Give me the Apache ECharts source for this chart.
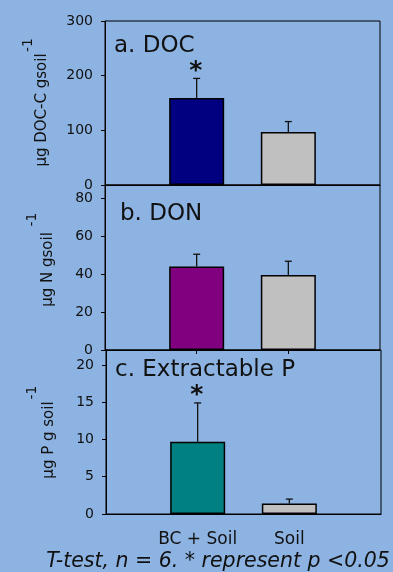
<!DOCTYPE html>
<html><head><meta charset="utf-8">
<script src="https://cdn.jsdelivr.net/npm/echarts@6/dist/echarts.min.js"></script>
<style>html,body{margin:0;padding:0;background:#8DB3E2}#c{width:393px;height:572px}</style>
</head><body><div id="c"></div>
<script>
// ---- data ----
const categories = ['BC + Soil', 'Soil'];
const docMean = [159, 97];
const docErr = [36, 19];
const docSig = [1, 0];
const donMean = [44, 39.5];
const donErr = [6.5, 7.3];
const donSig = [0, 0];
const pMean = [9.7, 1.4];
const pErr = [5.2, 0.6];
const pSig = [1, 0];
const docTicks = [0, 100, 200, 300];
const donTicks = [0, 20, 40, 60, 80];
const pTicks = [0, 5, 10, 15, 20];
const panelTitles = ['a. DOC', 'b. DON', 'c. Extractable P'];
const yTitles = ['µg DOC-C gsoil', 'µg N gsoil', 'µg P g soil'];
const footer = 'T-test, n = 6. * represent p <0.05';

const FONT = '"DejaVu Sans"';
const bcColors = ['#000080', '#800080', '#008080'];
const soilColor = '#C0C0C0';
const axisCats = [''].concat(categories, ['']);

const panels = [
  {mean: docMean, err: docErr, sig: docSig, ticks: docTicks, max: 300, interval: 100,
   grid: {left: 105, top: 21, width: 275, height: 164}},
  {mean: donMean, err: donErr, sig: donSig, ticks: donTicks, max: 87, interval: 20,
   grid: {left: 105, top: 185, width: 275, height: 165}},
  {mean: pMean, err: pErr, sig: pSig, ticks: pTicks, max: 22, interval: 5,
   grid: {left: 106, top: 350, width: 275, height: 164}}
];

const grid = [], xAxis = [], yAxis = [], series = [];
panels.forEach((p, i) => {
  grid.push(Object.assign({show: true, borderColor: '#000', borderWidth: 1, backgroundColor: 'transparent'}, p.grid));
  xAxis.push({
    type: 'category', gridIndex: i, data: axisCats, boundaryGap: false,
    axisLine: {show: true, lineStyle: {color: '#000', width: 1}},
    axisTick: {show: i === 1, length: 4, inside: false, lineStyle: {color: '#000'},
      interval: (idx) => idx === 1 || idx === 2},
    axisLabel: {show: i === 2, fontFamily: FONT, fontSize: 17, color: '#111', margin: 17, interval: 0},
    splitLine: {show: false}
  });
  const ticks = p.ticks;
  yAxis.push({
    type: 'value', gridIndex: i, min: 0, max: p.max, interval: p.interval,
    axisLine: {show: true, lineStyle: {color: '#000', width: 1}},
    axisTick: {show: true, length: 4, inside: false, lineStyle: {color: '#000'}},
    axisLabel: {fontFamily: FONT, fontSize: 14, color: '#111', margin: 12,
      formatter: (v) => ticks.indexOf(v) >= 0 ? String(v) : ''},
    splitLine: {show: false}
  });
  const barData = ['-'].concat(p.mean.map((m, k) => ({
    value: m, itemStyle: {color: k === 0 ? bcColors[i] : soilColor}
  })), ['-']);
  series.push({
    type: 'bar', xAxisIndex: i, yAxisIndex: i, data: barData, barWidth: 55,
    itemStyle: {borderColor: '#000', borderWidth: 1.5}, silent: true, z: 2
  });
  series.push({
    type: 'custom', xAxisIndex: i, yAxisIndex: i, z: 3, clip: false,
    data: p.mean.map((m, k) => [k + 1, m, p.err[k], p.sig[k]]),
    encode: {x: 0, y: 1},
    renderItem: (params, api) => {
      const idx = api.value(0), m = api.value(1), e = api.value(2), s = api.value(3);
      const p0 = api.coord([idx, m]);
      const p1 = api.coord([idx, m + e]);
      const style = {stroke: '#111', lineWidth: 1.3};
      const children = [
        {type: 'line', shape: {x1: p0[0], y1: p0[1], x2: p1[0], y2: p1[1]}, style},
        {type: 'line', shape: {x1: p1[0] - 3.5, y1: p1[1], x2: p1[0] + 3.5, y2: p1[1]}, style}
      ];
      if (s) {
        children.push({type: 'text', x: p1[0] - 1, y: p1[1] - 7,
          style: {text: '*', font: 'bold 25px ' + FONT, fill: '#111', align: 'center', verticalAlign: 'middle'}});
      }
      return {type: 'group', children};
    }
  });
});

const titlePos = [[114, 46], [120, 214], [115, 370]];
const yTitlePos = [[42.5, 110], [48.5, 269.5], [49, 440]];
const supPos = [[28, 45], [32.5, 219.5], [32.5, 392.5]];
const graphic = [];
panels.forEach((p, i) => {
  graphic.push({type: 'text', x: titlePos[i][0], y: titlePos[i][1],
    style: {text: panelTitles[i], font: '23px ' + FONT, fill: '#111', align: 'left', verticalAlign: 'middle'}});
  graphic.push({type: 'text', x: yTitlePos[i][0], y: yTitlePos[i][1], rotation: Math.PI / 2,
    style: {text: yTitles[i], font: '15px ' + FONT, fill: '#111', align: 'center', verticalAlign: 'middle'}});
  graphic.push({type: 'text', x: supPos[i][0], y: supPos[i][1], rotation: Math.PI / 2,
    style: {text: '-1', font: '14px ' + FONT, fill: '#111', align: 'center', verticalAlign: 'middle'}});
});
graphic.push({type: 'text', x: 218, y: 562,
  style: {text: footer, font: 'italic 20.5px ' + FONT, fill: '#111', align: 'center', verticalAlign: 'middle'}});

const chart = echarts.init(document.getElementById('c'), null, {renderer: 'canvas'});
chart.setOption({
  backgroundColor: '#8DB3E2',
  animation: false,
  grid, xAxis, yAxis, series, graphic
});
</script>
</body></html>
